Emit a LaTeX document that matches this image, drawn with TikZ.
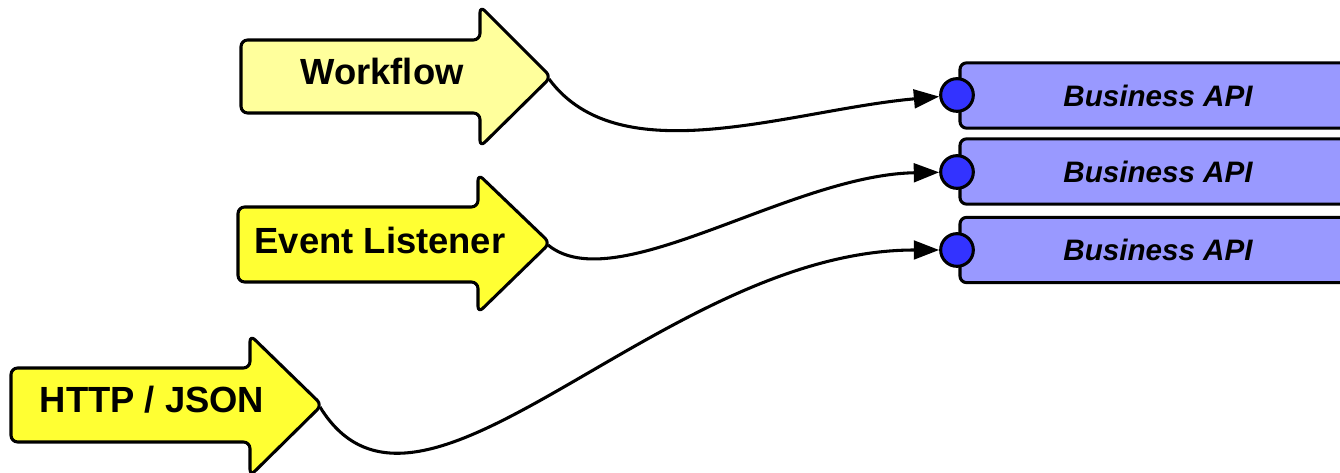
\documentclass[tikz,border=0pt]{standalone}
\usepackage{fontspec}
\setmainfont{Liberation Sans}
\usetikzlibrary{arrows.meta}
\definecolor{paleyellow}{HTML}{FFFF9C}
\definecolor{brightyellow}{HTML}{FFFF33}
\definecolor{apibox}{HTML}{9999FF}
\definecolor{apiport}{HTML}{3333FF}
\tikzset{
  bigarrow/.style={draw=black, line width=2.3pt, rounded corners=5pt, line join=round},
  arrowtext/.style={font=\bfseries\fontsize{27.3}{32}\selectfont, inner sep=0pt},
  apinode/.style={draw=black, line width=2.3pt, fill=apibox, rounded corners=5pt,
    minimum width=297pt, minimum height=49pt, inner sep=0pt,
    font=\bfseries\itshape\fontsize{22.2}{26}\selectfont},
  port/.style={circle, draw=black, line width=2.3pt, fill=apiport, minimum size=24.5pt, inner sep=0pt},
  conn/.style={draw=black, line width=2.3pt, -{Triangle[length=19pt, width=14pt]}},
}
\begin{document}
\begin{tikzpicture}[x=0.75pt, y=-0.75pt]
\useasboundingbox (0,0) rectangle (1340,473);
\clip (0,0) rectangle (1340,473);

% service boxes with their entry ports
\node[apinode] (api1) at (1158,95.5) {Business API};
\node[apinode] (api2) at (1158,171.5) {Business API};
\node[apinode] (api3) at (1158,250) {Business API};
\node[port] (p1) at (957,95) {};
\node[port] (p2) at (957,172) {};
\node[port] (p3) at (957,250) {};

% Workflow arrow
\path[bigarrow, fill=paleyellow]
  (241,40) -- (480,40) -- (480,6) -- (551,77)
  -- (480,147) -- (480,113) -- (241,113) -- cycle;
\coordinate (wftip) at (549,79);
\node[arrowtext] (wf) at (382,71) {Workflow};

% Event Listener arrow
\path[bigarrow, fill=brightyellow]
  (238,207) -- (478,207) -- (478,174) -- (550,243)
  -- (478,313) -- (478,282) -- (238,282) -- cycle;
\coordinate (eltip) at (548,245);
\node[arrowtext] (el) at (380,240) {Event Listener};

% HTTP / JSON arrow
\path[bigarrow, fill=brightyellow]
  (11,368) -- (250,368) -- (250,335) -- (322,405)
  -- (250,476) -- (250,442) -- (11,442) -- cycle;
\coordinate (httptip) at (320,407);
\node[arrowtext] (http) at (152,400) {HTTP / JSON};

% connectors
\draw[conn] (wftip) .. controls (620,175) and (790,110) .. (p1);
\draw[conn] (eltip) .. controls (615,300) and (790,175) .. (p2);
\draw[conn] (httptip) .. controls (420,570) and (660,250) .. (p3);
\end{tikzpicture}
\end{document}
